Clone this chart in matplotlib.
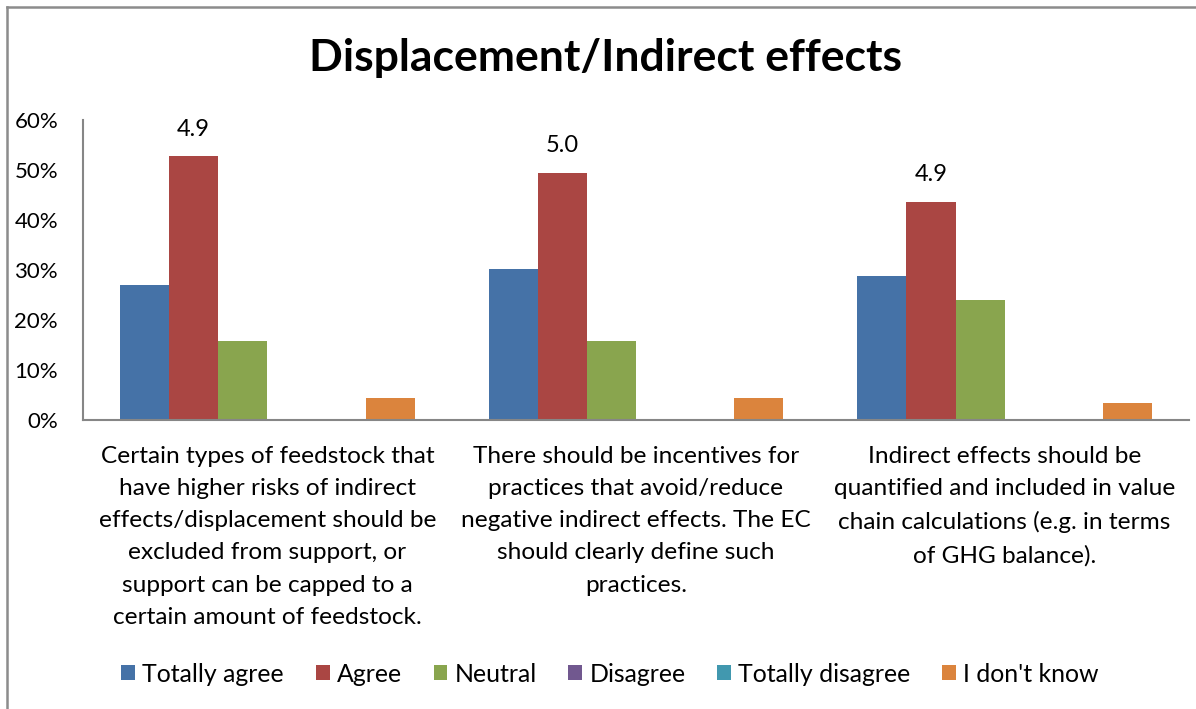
import matplotlib
matplotlib.use("Agg")
import matplotlib.pyplot as plt
from matplotlib.lines import Line2D
from matplotlib.ticker import FuncFormatter
import numpy as np

plt.rcParams['font.family'] = ['Lato', 'DejaVu Sans']

title = "Displacement/Indirect effects"

statements = [
    "Certain types of feedstock that\nhave higher risks of indirect\neffects/displacement should be\nexcluded from support, or\nsupport can be capped to a\ncertain amount of feedstock.",
    "There should be incentives for\npractices that avoid/reduce\nnegative indirect effects. The EC\nshould clearly define such\npractices.",
    "Indirect effects should be\nquantified and included in value\nchain calculations (e.g. in terms\nof GHG balance).",
]

answers = ["Totally agree", "Agree", "Neutral", "Disagree", "Totally disagree", "I don't know"]

# share of respondents per answer, one list per statement
totally_agree = [0.270, 0.303, 0.288]
agree = [0.528, 0.494, 0.437]
neutral = [0.158, 0.158, 0.241]
disagree = [0.0, 0.0, 0.0]
totally_disagree = [0.0, 0.0, 0.0]
dont_know = [0.045, 0.045, 0.034]

# average score per statement, printed above the "Agree" bar
average_scores = ["4.9", "5.0", "4.9"]

colors = ["#4572A7", "#AA4643", "#89A54E", "#71588F", "#4198AF", "#DB843D"]

series = [totally_agree, agree, neutral, disagree, totally_disagree, dont_know]

W, H = 1196, 709
fig = plt.figure(figsize=(W / 100, H / 100), dpi=100)
ax = fig.add_axes([83 / W, 1 - 420 / H, (1189 - 83) / W, 300 / H])

x = np.arange(len(statements))
bw = 1 / 7.5
offsets = (np.arange(len(series)) - 2.5) * bw
for i, (vals, col) in enumerate(zip(series, colors)):
    ax.bar(x + offsets[i], vals, width=bw, color=col, label=answers[i],
           edgecolor='none')

for xi, top, txt in zip(x, agree, average_scores):
    ax.annotate(txt, (xi + offsets[1], top), xytext=(0, 27), textcoords='offset pixels',
                ha='center', va='center', fontsize=17, color='black')

ax.set_xlim(-0.5, 2.5)
ax.set_ylim(0, 0.6)
ax.set_yticks(np.arange(0, 0.61, 0.1))
ax.yaxis.set_major_formatter(FuncFormatter(lambda v, p: f"{v * 100:.0f}%"))
ax.set_xticks(x)
ax.set_xticklabels(statements, fontsize=17.6, linespacing=1.66,
                   multialignment='center')
ax.tick_params(axis='x', length=0, pad=18.6)
ax.tick_params(axis='y', length=0, pad=18, labelsize=16)

for s in ['top', 'right']:
    ax.spines[s].set_visible(False)
for s in ['left', 'bottom']:
    ax.spines[s].set_color('#868686')
    ax.spines[s].set_linewidth(1.5)

fig.text(605 / W, 1 - 58 / H, title, ha='center', va='center',
         fontsize=32, fontweight='bold')

leg = ax.legend(loc='center', bbox_to_anchor=(610 / W, 1 - 674 / H),
                bbox_transform=fig.transFigure, ncol=6, frameon=False,
                fontsize=17.9, handlelength=0.56, handleheight=0.56,
                handletextpad=0.28, columnspacing=1.28)

# outer chart frame
fig.add_artist(Line2D([7 / W, 7 / W], [0, 1 - 7 / H], transform=fig.transFigure,
                      color='#8c8c8c', lw=1.8))
fig.add_artist(Line2D([7 / W, 1], [1 - 7 / H, 1 - 7 / H], transform=fig.transFigure,
                      color='#8c8c8c', lw=1.8))

fig.savefig("out.png", dpi=100)
